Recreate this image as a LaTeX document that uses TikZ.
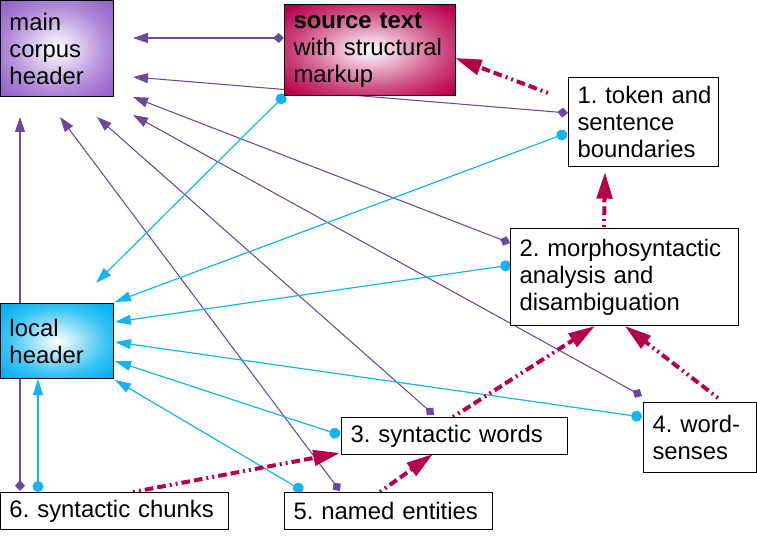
\documentclass[tikz,border=0pt]{standalone}
\usepackage{fontspec}
\setmainfont{Liberation Sans}
\usetikzlibrary{arrows.meta,calc}
\definecolor{mchpurple}{RGB}{150,98,204}
\definecolor{srccrimson}{RGB}{184,0,76}
\definecolor{locsky}{RGB}{0,178,240}
\definecolor{purpline}{RGB}{106,74,156}
\definecolor{blueline}{RGB}{20,180,240}
\definecolor{crimline}{RGB}{181,0,75}
\pgfdeclareradialshading{purpshade}{\pgfpoint{0bp}{0bp}}{color(0bp)=(white); color(22bp)=(mchpurple!75!white); color(33bp)=(mchpurple); color(50bp)=(mchpurple)}
\pgfdeclareradialshading{crimshade}{\pgfpoint{0bp}{0bp}}{color(0bp)=(white); color(22bp)=(srccrimson!72!white); color(33bp)=(srccrimson); color(50bp)=(srccrimson)}
\pgfdeclareradialshading{skyshade}{\pgfpoint{0bp}{0bp}}{color(0bp)=(white); color(22bp)=(locsky!78!white); color(33bp)=(locsky); color(50bp)=(locsky)}
\pgfdeclarelayer{background}
\pgfsetlayers{background,main}
\frenchspacing
\begin{document}
\begin{tikzpicture}[x=0.75pt,y=-0.75pt,
  box/.style={draw=black, line width=0.75pt, anchor=north west, align=left,
    inner xsep=6.75pt, inner ysep=1pt,
    font=\fontsize{17.9pt}{20.25pt}\selectfont\frenchspacing},
  purp/.style={draw=purpline, line width=0.8pt,
    {Diamond[length=8pt,width=7.5pt]}-{Triangle[length=11.25pt,width=7.5pt]}},
  blu/.style={draw=blueline, line width=0.9pt,
    {Circle[length=8.25pt]}-{Triangle[length=12pt,width=7.5pt]}},
  crim/.style={draw=crimline, line width=3pt,
    dash pattern=on 1.5pt off 3pt on 1.5pt off 3pt on 6.5pt off 3pt on 6.5pt off 3pt,
    -{Triangle[length=20pt,width=11.5pt]}},
]
\useasboundingbox (0,0) rectangle (757,538);

% boxes
\node[box, text width=71.25pt, minimum height=72pt, shade, shading=purpshade] (mch) at (0,0) {main\\corpus\\header};
\node[box, text width=114.75pt, minimum height=68.25pt, shade, shading=crimshade] (src) at (284,4) {\textbf{source text}\\with structural\\markup};
\node[box, text width=99pt, minimum height=66.75pt, fill=white] (tok) at (568,77) {\mbox{1. token and}\\sentence\\boundaries};
\node[box, text width=157.5pt, minimum height=72.75pt, fill=white] (mor) at (510,228) {2. morphosyntactic\\analysis and\\disambiguation};
\node[box, text width=71.25pt, minimum height=56.25pt, shade, shading=skyshade] (loc) at (0,303) {local\\header};
\node[box, text width=156pt, minimum height=27.75pt, fill=white] (syn) at (341,417) {3. syntactic words};
\node[box, text width=71.25pt, minimum height=52.5pt, fill=white] (ws) at (643,402) {4. word-\\senses};
\node[box, text width=157.5pt, minimum height=27.75pt, fill=white] (chk) at (0,492) {6. syntactic chunks};
\node[box, text width=142.5pt, minimum height=27.75pt, fill=white] (ne) at (284,492) {5. named entities};

\begin{pgfonlayer}{background}
% purple: to main corpus header
\draw[purp] ($(src.north west)+(0,34)$) -- ($(mch.north west)+(133,38)$);
\draw[purp] ($(tok.north west)+(0,36)$) -- ($(mch.north west)+(133,77)$);
\draw[purp] ($(mor.north west)+(0,15)$) -- ($(mch.north west)+(133,97)$);
\draw[purp] ($(ws.north west)+(-1,-6)$) -- ($(mch.north west)+(133,115)$);
\draw[purp] ($(syn.north west)+(93,-2)$) -- ($(mch.north west)+(97,117)$);
\draw[purp] ($(ne.north west)+(56,-1)$) -- ($(mch.north west)+(60,117)$);
\draw[purp] ($(chk.north west)+(20,-1)$) -- ($(mch.north west)+(20,117)$);
% blue: to local header
\draw[blu] ($(src.north west)+(1,91)$) -- ($(loc.north west)+(96,-20)$);
\draw[blu] ($(tok.north west)+(-1,56)$) -- ($(loc.north west)+(115,-1)$);
\draw[blu] ($(mor.north west)+(1,37)$) -- ($(loc.north west)+(115,19)$);
\draw[blu] ($(ws.north west)+(-1,15)$) -- ($(loc.north west)+(115,39)$);
\draw[blu] ($(syn.north west)+(-1,18)$) -- ($(loc.north west)+(115,58)$);
\draw[blu] ($(ne.north west)+(19,-1)$) -- ($(loc.north west)+(115,77)$);
\draw[blu] ($(chk.north west)+(38,0)$) -- ($(loc.north west)+(38,76)$);
% crimson dash-dot dependencies
\draw[crim] ($(tok.north west)+(-20,16)$) -- ($(src.north west)+(171,54)$);
\draw[crim] ($(mor.north west)+(94,-1)$) -- ($(tok.north west)+(37,95)$);
\draw[crim] ($(syn.north west)+(112,0)$) -- ($(mor.north west)+(85,98)$);
\draw[crim] ($(ws.north west)+(75,-4)$) -- ($(mor.north west)+(115,98)$);
\draw[crim] ($(chk.north west)+(133,0)$) -- ($(syn.north west)+(-1,36)$);
\draw[crim] ($(ne.north west)+(96,0)$) -- ($(syn.north west)+(92,37)$);
\end{pgfonlayer}
\end{tikzpicture}
\end{document}
